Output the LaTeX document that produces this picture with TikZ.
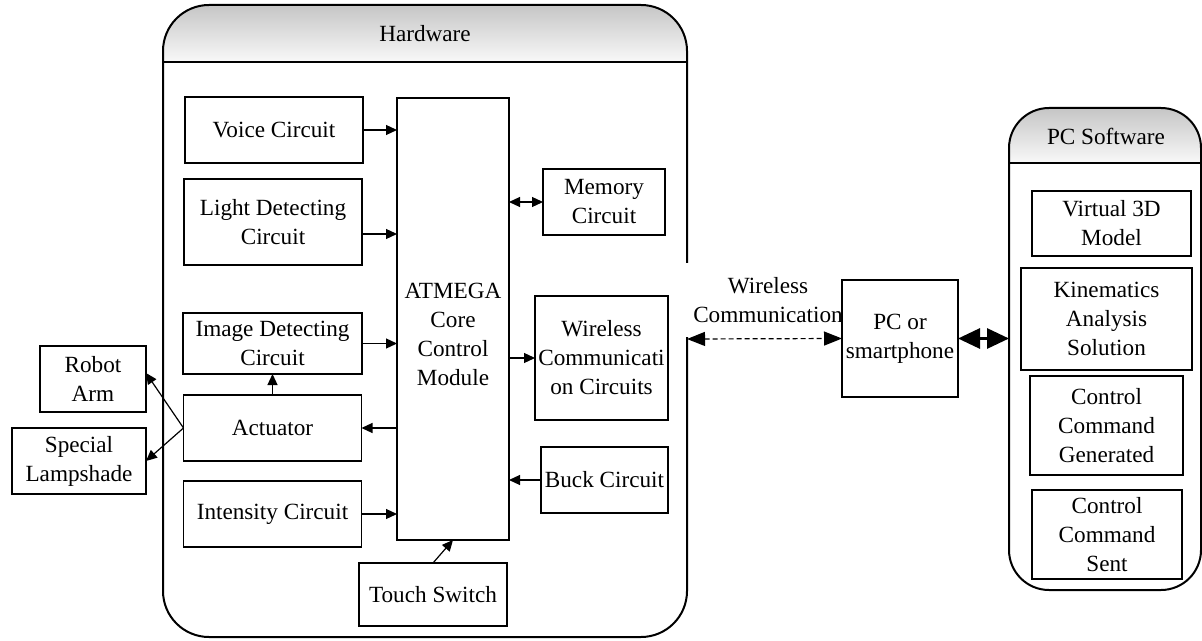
\documentclass[tikz,border=0pt]{standalone}
\usepackage{fontspec}
\setmainfont{Liberation Serif}
\usetikzlibrary{arrows.meta,positioning,calc}

\begin{document}
\begin{tikzpicture}[
    x=0.5pt, y=-0.5pt, % 以像素為單位, y 軸向下
    font=\fontsize{11.6}{14.5}\selectfont, % Times 類字體
    >={Triangle[length=5.5pt,width=5pt]}, % 設定箭頭樣式
    % 定義通用樣式
    box/.style={
        draw,
        fill=white,
        align=center,
        inner sep=1pt,
        line width=0.6pt,
        outer sep=0pt % 讓箭頭緊貼方塊邊框
    },
    frame/.style={line width=1pt},
    header/.style={top color=gray!45, bottom color=gray!5},
    link/.style={->, line width=0.6pt},
    bigarrow/.style={
        {Triangle[length=11pt,width=10pt]}-{Triangle[length=11pt,width=10pt]},
        line width=1.5pt
    }
]
    \useasboundingbox (0,0) rectangle (1202,641);

    % --- 1. Hardware 外框 (右側留缺口給無線連線) ---
    \begin{scope}
        \clip[rounded corners=23pt] (163,637) -- (163,5) -- (687,5) -- (687,637) -- cycle;
        \fill[header] (163,5) rectangle (687,62);
    \end{scope}
    \draw[frame, rounded corners=23pt] (687,263) -- (687,5) -- (163,5) -- (163,637) -- (687,637) -- (687,337);
    \draw[frame] (163,62) -- (687,62);
    \node (hwtitle) at (425,34) {Hardware};

    % --- 2. Hardware 內部模組 ---
    \node[box, minimum width=89pt, minimum height=33pt] (voice) at (274,130) {Voice Circuit};
    \node[box, minimum width=89pt, minimum height=43pt] (light) at (273,222) {Light Detecting\\Circuit};
    \node[box, minimum width=89.5pt, minimum height=30.5pt] (image) at (272.5,343.5) {Image Detecting\\Circuit};
    \node[box, minimum width=89pt, minimum height=33pt, below=10.5pt of image] (actuator) {Actuator};
    \node[box, minimum width=89pt, minimum height=33pt, below=10pt of actuator] (intensity) {Intensity Circuit};

    % ATMEGA 核心 (文字另外放, 稍微偏下)
    \node[box, minimum width=56pt, minimum height=221pt] (atmega) at (453,319) {};
    \node[align=center] (atmegatext) at (453,334) {ATMEGA\\Core\\Control\\Module};

    \node[box, minimum width=61pt, minimum height=33pt] (memory) at (604,202) {Memory\\Circuit};
    \node[box, minimum width=66.5pt, minimum height=62pt] (wlcirc) at (601.5,358) {Wireless\\Communicati\\on Circuits};
    \node[box, minimum width=63.5pt, minimum height=33pt] (buck) at (604.5,480) {Buck Circuit};
    \node[box, minimum width=74pt, minimum height=31.5pt] (touch) at (433,594.5) {Touch Switch};

    % --- 3. 外部執行機構 (Left) ---
    \node[box, minimum width=53pt, minimum height=33pt] (robot) at (93,379) {Robot\\Arm};
    \node[box, minimum width=67pt, minimum height=33pt, below=8pt of robot.south east, anchor=north east] (lamp) {Special\\Lampshade};

    % --- 4. PC or smartphone (Center) ---
    \node[box, minimum width=58pt, minimum height=58.5pt] (pc) at (900,338.5) {PC or\\smartphone};
    \node[align=center] (wltext) at (768,300) {Wireless\\Communication};

    % --- 5. PC Software 外框 (Right) ---
    \begin{scope}
        \clip[rounded corners=20pt] (1009,590) -- (1009,108) -- (1201,108) -- (1201,590) -- cycle;
        \fill[header] (1009,108) rectangle (1201,163);
    \end{scope}
    \draw[frame, rounded corners=20pt] (1009,590) -- (1009,108) -- (1201,108) -- (1201,590) -- cycle;
    \draw[frame] (1009,163) -- (1201,163);
    \node (swtitle) at (1106,136) {PC Software};

    \node[box, minimum width=79.5pt, minimum height=32.5pt] (virtual) at (1111.5,223.5) {Virtual 3D\\Model};
    \node[box, minimum width=85.5pt, minimum height=51pt] (kinematics) at (1106.5,319) {Kinematics\\Analysis\\Solution};
    \node[box, minimum width=76.5pt, minimum height=49.5pt] (generated) at (1106.5,425.5) {Control\\Command\\Generated};
    \node[box, minimum width=75pt, minimum height=44.5pt] (sent) at (1107,534.5) {Control\\Command\\Sent};

    % --- 6. Arrows (連線) ---
    \coordinate (hwport) at (687,339);
    \coordinate (swport) at (1009,338.5);

    \draw[link] (voice.east) -- (voice.east -| atmega.west);
    \draw[link] ([yshift=-6pt]light.east) -- ([yshift=-6pt]light.east -| atmega.west);
    \draw[link] (image.east) -- (image.east -| atmega.west);
    \draw[link] (intensity.east) -- (intensity.east -| atmega.west);
    \draw[link] (atmega.west |- actuator.east) -- (actuator.east);
    \draw[link, <->] (atmega.east |- memory.west) -- (memory.west);
    \draw[link] (atmega.east |- wlcirc.west) -- (wlcirc.west);
    \draw[link] (buck.west) -- (buck.west -| atmega.east);
    \draw[link] (touch.north) -- (atmega.south);
    \draw[link] (actuator.north) -- (actuator.north |- image.south);

    % Actuator -> 機械臂 / 燈罩
    \draw[link] (actuator.west) -- ([yshift=3pt]robot.east);
    \draw[link] (actuator.west) -- (lamp.east);

    % 無線通訊 (虛線) 與 PC 軟體 (粗雙箭頭)
    \draw[line width=0.6pt, dash pattern=on 2.5pt off 1.5pt,
        {Triangle[length=9pt,width=7pt]}-{Triangle[length=9pt,width=7pt]}] (hwport) -- (pc.west);
    \draw[bigarrow] (pc.east) -- (swport);

\end{tikzpicture}
\end{document}
